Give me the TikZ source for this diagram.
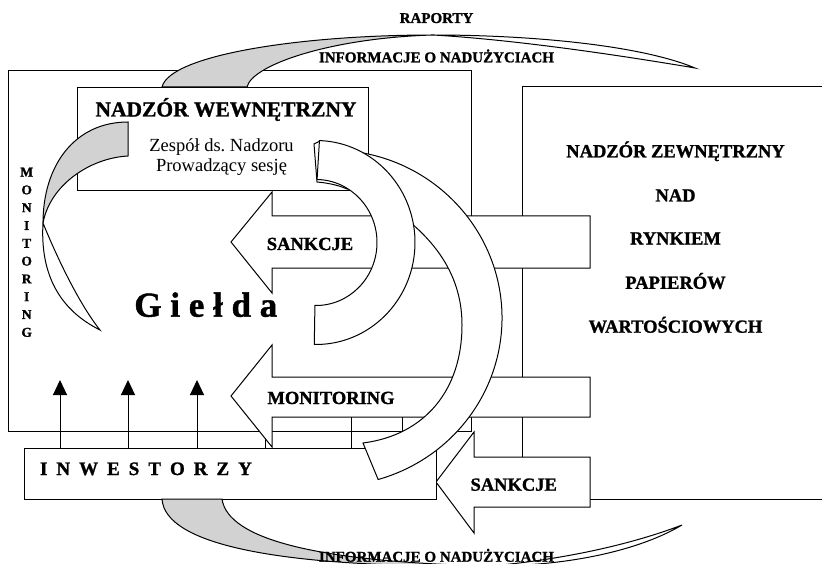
\documentclass[tikz,border=0pt]{standalone}
\usepackage{fontspec}
\setmainfont{Liberation Serif}[BoldFeatures={FakeBold=1.2}]
\usetikzlibrary{arrows.meta,calc}
\frenchspacing
\begin{document}
\begin{tikzpicture}[x=1pt,y=-1pt,line width=1pt,line join=miter,
  box/.style={draw,fill=white,rectangle,inner sep=0pt,outer sep=0pt},
  band/.style={draw,fill=gray!35},
  ribbon/.style={draw,fill=white},
  lbl/.style={font=\bfseries\fontsize{18.5}{20}\selectfont,inner sep=0pt,anchor=base},
  small/.style={font=\bfseries\fontsize{15}{16}\selectfont,inner sep=0pt,anchor=base},
  plain/.style={font=\fontsize{18.5}{20}\selectfont,inner sep=0pt,anchor=base},
  upar/.style={-{Triangle[width=14pt,length=15pt]}}]
\useasboundingbox (0,0) rectangle (822,564);
\clip (0,0) rectangle (822,564);
\fill[white] (0,0) rectangle (822,564);

% boxes
\node[box,minimum width=463pt,minimum height=361pt] (gielda) at (239.5,251.2) {};
\node[box,minimum width=308pt,minimum height=412pt] (ext) at (676,293) {};
\node[box,minimum width=291pt,minimum height=103pt] (nw) at (222.5,138.7) {};

% small grid lines
\draw (351,417) -- (351,448);
\draw (402,417) -- (402,448);
\draw (265,432) -- (265,448);

% block arrows
\draw[ribbon] (590,216) -- (272,216) -- (272,192) -- (231,242) -- (272,293) -- (272,268) -- (590,268) -- cycle;
\draw[ribbon] (590,377) -- (272,377) -- (272,345) -- (231,396) -- (272,447) -- (272,417) -- (590,417) -- cycle;
\draw[ribbon] (590,457) -- (474,457) -- (474,432) -- (436,482) -- (474,533) -- (474,507) -- (590,507) -- cycle;

% investors
\node[box,minimum width=411.5pt,minimum height=51pt] (inw) at (230.25,473.5) {};
\foreach \x/\n in {60/a,128/b,197/c}{
  \coordinate (up\n) at (\x,380);
  \draw[upar] (inw.north -| up\n) -- (up\n);
}

% large curved ribbons
\draw[ribbon] (331,318) ++(-80:171 and 168) arc[start angle=-80,end angle=74,x radius=171,y radius=168]
  -- (363,443) .. controls (425,435) and (462,390) .. (462,325)
  .. controls (462,280) and (440,235) .. (372,196) -- cycle;
\draw[ribbon] (320,141) -- (314,144) -- (317,182) .. controls (328,183) and (338,185) .. (347,189) -- (340,160) -- cycle;
\draw[ribbon] (316,242.5) ++(-88:99 and 102) arc[start angle=-88,end angle=91,x radius=99,y radius=102]
  -- ($(316,242.5)+(91:61 and 63)$) arc[start angle=91,end angle=-89,x radius=61,y radius=63] -- cycle;

% top band
\draw[band] (162,87) .. controls (170,55) and (300,35) .. (433,35)
  .. controls (330,38) and (252,65) .. (247,87) -- cycle;
\draw[ribbon] (433,35) .. controls (530,35) and (640,45) .. (695,68)
  .. controls (630,57) and (520,40) .. (433,35) -- cycle;

% left monitoring band
\draw[band] (128,122) .. controls (75,122) and (43,165) .. (43,223)
  .. controls (50,185) and (90,158) .. (128,156) -- cycle;
\draw[ribbon] (43,223) .. controls (40,275) and (60,310) .. (100,330)
  .. controls (80,305) and (58,260) .. (43,223) -- cycle;

% bottom band
\draw[band] (162,499) .. controls (165,545) and (280,568) .. (490,566)
  .. controls (320,562) and (228,540) .. (222,499) -- cycle;
\draw[ribbon] (490,566) .. controls (560,560) and (630,545) .. (682,525)
  .. controls (640,550) and (570,566) .. (490,566) -- cycle;

% texts
\node[small] (raporty) at (436.5,23) {RAPORTY};
\node[small] (infotop) at (436.5,62.3) {INFORMACJE O NADUŻYCIACH};
\node[small] (infobot) at (436.5,561.7) {INFORMACJE O NADUŻYCIACH};
\node[font=\bfseries\fontsize{21.5}{24}\selectfont,inner sep=0pt,anchor=base] (nwt) at (226,116.5) {NADZÓR WEWNĘTRZNY};
\node[plain] (zesp) at (221.5,151.5) {Zespół ds.\ Nadzoru};
\node[plain] (prow) at (221.5,171.5) {Prowadzący sesję};
\node[lbl] (ext1) at (675.5,157.3) {NADZÓR ZEWNĘTRZNY};
\node[lbl] (ext2) at (675.5,201.5) {NAD};
\node[lbl] (ext3) at (675.5,244.5) {RYNKIEM};
\node[lbl] (ext4) at (675.5,288.8) {PAPIERÓW};
\node[lbl] (ext5) at (675.5,332.7) {WARTOŚCIOWYCH};
\node[lbl] (sank1) at (310,250) {SANKCJE};
\node[lbl] (monit) at (331,404) {MONITORING};
\node[lbl] (sank2) at (513.7,490.7) {SANKCJE};
\node[font=\bfseries\fontsize{35}{40}\selectfont,inner sep=0pt,anchor=base] (gtxt) at (205.8,316.7) {G i e ł d a};
\node[font=\bfseries\fontsize{13.5}{17.8}\selectfont,inner sep=0pt,align=center] (vmon) at (26.7,252.3)
  {M\\O\\N\\I\\T\\O\\R\\I\\N\\G};
\node[font=\bfseries\fontsize{19}{20}\selectfont,inner sep=0pt,anchor=base west] (inwt) at (39.5,475)
  {I\kern9pt N\kern9pt W\kern9pt E\kern9pt S\kern9pt T\kern9pt O\kern9pt R\kern9pt Z\kern9pt Y};
\end{tikzpicture}
\end{document}
